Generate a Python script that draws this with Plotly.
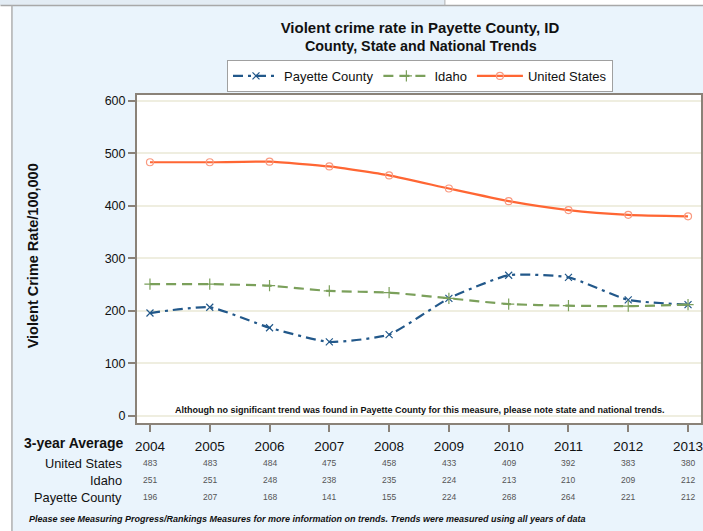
import plotly.graph_objects as go

years = [2004, 2005, 2006, 2007, 2008, 2009, 2010, 2011, 2012, 2013]
us_values = [483, 483, 484, 475, 458, 433, 409, 392, 383, 380]
idaho_values = [251, 251, 248, 238, 235, 224, 213, 210, 209, 212]
payette_values = [196, 207, 168, 141, 155, 224, 268, 264, 221, 212]
y_ticks = [0, 100, 200, 300, 400, 500, 600]
row_labels = ["United States", "Idaho", "Payette County"]

FONT = "Liberation Sans, Arial, sans-serif"
NARROW = "Liberation Sans Narrow, Arial Narrow, Liberation Sans, sans-serif"
W, H = 703, 531
ML, MR, MT, MB = 137, 0, 95, 108
PW = W - ML - MR
PH = H - MT - MB


def px_x(px):
    return (px - ML) / PW


def px_y(py):
    return (H - MB - py) / PH


fig = go.Figure()

fig.add_trace(go.Scatter(
    x=years, y=payette_values, name="Payette County", mode="lines+markers",
    line=dict(color="#22588A", width=2.2, dash="10px,5px,3px,5px", shape="spline", smoothing=0.5),
    marker=dict(symbol="x-thin-open", size=7, color="#22588A", line=dict(width=1.2, color="#4A7AA8")),
))
fig.add_trace(go.Scatter(
    x=years, y=idaho_values, name="Idaho", mode="lines+markers",
    line=dict(color="#7BA05B", width=2.2, dash="10px,6px", shape="spline", smoothing=0.5),
    marker=dict(symbol="cross-thin-open", size=8, color="#7BA05B", line=dict(width=1.2, color="#8DB070")),
))
fig.add_trace(go.Scatter(
    x=years, y=us_values, name="United States", mode="lines+markers",
    line=dict(color="#FF6633", width=2.2, shape="spline", smoothing=0.5),
    marker=dict(symbol="circle-open", size=7, color="#F99A80", line=dict(width=1.2, color="#F99A80")),
))

annotations = []
annotations.append(dict(xref="paper", yref="paper", x=px_x(126), y=px_y(443), xanchor="right", yanchor="middle",
                        text="<b>3-year Average</b>", showarrow=False, font=dict(family=FONT, size=14, color="#111")))
rows = [us_values, idaho_values, payette_values]
row_py = [463, 480, 497]
for label, vals, py in zip(row_labels, rows, row_py):
    annotations.append(dict(xref="paper", yref="paper", x=px_x(124), y=px_y(py), xanchor="right", yanchor="middle",
                            text=label, showarrow=False, font=dict(family=FONT, size=12.8, color="#111")))
    for yr, v in zip(years, vals):
        annotations.append(dict(xref="x", yref="paper", x=yr, y=px_y(py), xanchor="center", yanchor="middle",
                                text=str(v), showarrow=False, font=dict(family=NARROW, size=8.5, color="#555")))

annotations.append(dict(xref="paper", yref="paper", x=px_x(422), y=px_y(46), xanchor="center", yanchor="middle",
                        text="<b>County, State and National Trends</b>", showarrow=False,
                        font=dict(family=FONT, size=14.3, color="#111")))
annotations.append(dict(xref="paper", yref="paper", x=px_x(33), y=px_y(256), xanchor="center", yanchor="middle",
                        text="<b>Violent Crime Rate/100,000</b>", textangle=-90, showarrow=False,
                        font=dict(family=FONT, size=14.5, color="#111")))
annotations.append(dict(xref="paper", yref="paper", x=px_x(421), y=px_y(410), xanchor="center", yanchor="middle",
                        text="<b>Although no significant trend was found in Payette County for this measure, please note state and national trends.</b>",
                        showarrow=False, font=dict(family=FONT, size=9, color="#111")))
annotations.append(dict(xref="paper", yref="paper", x=px_x(27), y=px_y(519), xanchor="left", yanchor="middle",
                        text="<b><i>Please see Measuring Progress/Rankings Measures for more information on trends. Trends were measured using all years of data</i></b>",
                        showarrow=False, font=dict(family=FONT, size=9, color="#111")))

shapes = [
    dict(type="rect", xref="paper", yref="paper", x0=px_x(-2), x1=px_x(11), y0=px_y(533), y1=px_y(-2),
         fillcolor="white", line=dict(width=0), layer="below"),
    dict(type="rect", xref="paper", yref="paper", x0=px_x(-2), x1=px_x(705), y0=px_y(5), y1=px_y(-2),
         fillcolor="white", line=dict(width=0), layer="below"),
    dict(type="rect", xref="paper", yref="paper", x0=px_x(-2), x1=px_x(446), y0=px_y(5), y1=px_y(-2),
         fillcolor="#E3ECF4", line=dict(width=0), layer="below"),
    dict(type="line", xref="paper", yref="paper", x0=px_x(0), x1=px_x(705), y0=px_y(5.5), y1=px_y(5.5),
         line=dict(color="#A8A8A8", width=1.5)),
    dict(type="line", xref="paper", yref="paper", x0=px_x(11.5), x1=px_x(11.5), y0=px_y(5.5), y1=px_y(533),
         line=dict(color="#B0B0B0", width=1.5)),
    dict(type="line", xref="paper", yref="paper", x0=px_x(446), x1=px_x(446), y0=px_y(0), y1=px_y(5.5),
         line=dict(color="#B0B0B0", width=1)),
]

fig.update_layout(
    width=W, height=H,
    margin=dict(l=ML, r=MR, t=MT, b=MB, pad=0),
    paper_bgcolor="#EAF4FC",
    plot_bgcolor="white",
    font=dict(family=FONT, color="#111"),
    title=dict(text="<b>Violent crime rate in Payette County, ID</b>", x=px_x(421), xref="paper", xanchor="center",
               y=1 - 28 / H, yref="container", yanchor="middle",
               font=dict(family=FONT, size=15, color="#111")),
    showlegend=True,
    legend=dict(orientation="h", x=px_x(421), xanchor="center", xref="paper", y=px_y(60), yanchor="top",
                bgcolor="white", bordercolor="#A0A0A0", borderwidth=1,
                font=dict(family=FONT, size=13, color="#111"), itemwidth=46, tracegroupgap=0),
    annotations=annotations,
    shapes=shapes,
)

fig.update_xaxes(
    range=[2003.783, 2013.217], tickmode="array", tickvals=years, ticktext=[str(y) for y in years],
    showgrid=False, zeroline=False, showline=True, linecolor="#8A8278", linewidth=2, mirror=True,
    ticks="outside", ticklen=7, tickcolor="#8A8278", tickwidth=1.5,
    tickfont=dict(family=FONT, size=13.5, color="#111"), ticklabelstandoff=3,
    ticklabeloverflow="allow",
)
fig.update_yaxes(
    range=[-13.3, 611], tickmode="array", tickvals=y_ticks,
    showgrid=True, gridcolor="#EFEEE0", gridwidth=1.5, zeroline=False,
    showline=True, linecolor="#8A8278", linewidth=2, mirror=True,
    ticks="outside", ticklen=7, tickcolor="#8A8278", tickwidth=1.5,
    tickfont=dict(family=FONT, size=12.5, color="#111"),
)

fig.write_html(
    "out.html",
    config={"displayModeBar": False},
    post_script="document.body.style.margin='0';document.body.style.overflow='hidden';",
)
